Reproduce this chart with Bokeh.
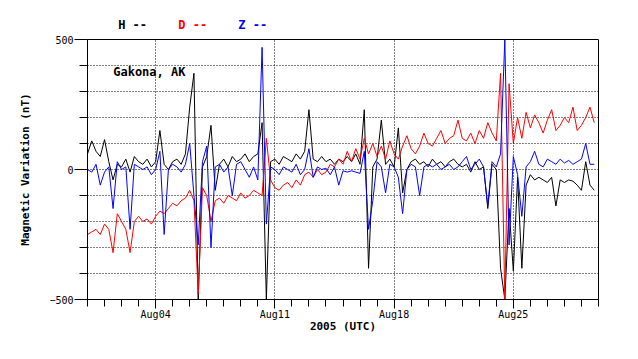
from datetime import datetime, timedelta
import pandas as pd
from bokeh.plotting import figure
from bokeh.layouts import column
from bokeh.models import Range1d, FixedTicker, DatetimeTickFormatter, Label, ColumnDataSource
from bokeh.core.properties import value
from bokeh.embed import file_html
from bokeh.resources import INLINE

# ---- data (6-hourly samples starting 2005-07-31 00:00 UTC) ----
h_vals = [60, 110, 70, 50, 115, 30, -40, 20, 10, 40,
          -10, 50, 30, 20, 40, 10, 30, 150, 20, 0,
          30, 40, 20, 60, 240, 370, -500, 10, 50, 170,
          -80, 20, 40, 10, 50, 30, 40, 60, 30, 50,
          60, 180, -500, 30, 40, 20, 50, 40, 30, 60,
          40, 70, 230, 40, 30, 50, 30,
          40, 20, 40, 30,
          50, 30, 60, 20, 230, -380, 10, 40, 190, 20,
          40, 10, 160, -90, 0, 30, 40, 20, 30, 10,
          40, 20, 30, 10, 30, 40, 20, 10, 20, -10,
          30, 0, 10, -150, 20, 0, -380, -500, -150, -390,
          -30, -380, -60, -20, -40, -30, -40, -50, -30, -140,
          -40, -50, -40, -45, -60, -80, 30, -60, -80]
d_vals = [-250, -240, -230, -250, -210, -230, -320, -170, -200, -230,
          -320, -200, -180, -200, -190, -210, -180, -160, -170, -150,
          -130, -140, -120, -110, -80, -120, -480, -70, -100, -200,
          -120, -110, -130, -100, -110, -120, -90, -110, -100, -80,
          -90, -100, 120, -40, -70, -80, -60, -50, -70, -40,
          -60, -20, -10, -30, 0, -20, -10,
          20, 10, 40, 20,
          70, 30, 80, 40, 120, 60, 100, 50, 90, 40,
          110, 60, 40, 90, 130, 80, 60, 90, 140, 100,
          90, 120, 150, 100, 120, 130, 190, 120, 110, 140,
          100, 150, 120, 180, 140, 110, 370, -500, 330, 100,
          200, 120, 220, 160, 210, 180, 140, 190, 230, 150,
          170, 200, 180, 240, 150, 170, 200, 240, 180]
z_vals = [0, -10, 20, -60, -10, 10, -150, 30, 0, 10,
          -230, 20, 10, 0, 10, -20, 0, 70, -250, 0,
          20, 10, -10, 20, 100, -100, -290, 30, 90, -300,
          10, 20, -10, 10, -100, 20, 30, 0, -30, 10,
          -40, 470, -210, 10, 0, -20, 10, 0, -10, 20,
          -20, 0, 80, -30, 10, 0, 5,
          -20, 10, -60, -5,
          -10, -5, -10, -15, 70, -230, -120, 30, 10, -90,
          20, 10, -30, -170, 0, 20, 10, -100, 10, 20,
          10, 20, 0, 10, 20, 0, 10, 30, 50, 0,
          20, 40, 10, -140, 30, 10, 60, 500, -290, 50,
          -20, -180, 10, 30, 70, 20, 10, 40, 30, 20,
          40, 25, 35, 20, 30, 40, 100, 20, 20]
times = pd.date_range("2005-07-31 00:00", periods=len(h_vals), freq="6h")

series_names = ["H", "D", "Z"]
series_colors = ["black", "red", "blue"]
y_major = [-500, 0, 500]
y_minor = [-400, -300, -200, -100, 100, 200, 300, 400]
x_major_days = [datetime(2005, 8, 4), datetime(2005, 8, 11), datetime(2005, 8, 18), datetime(2005, 8, 25)]
x_start = datetime(2005, 7, 31)
x_end = datetime(2005, 8, 30)
station = "Gakona, AK"
x_title = "2005 (UTC)"
y_title = "Magnetic Variation (nT)"

def ms(dt):
    return (dt - datetime(1970, 1, 1)).total_seconds() * 1000.0

FONT = "DejaVu Sans Mono"
xr = Range1d(x_start, x_end)

# ---- legend strip (above the main plot) ----
top = figure(width=630, height=31, x_range=xr, y_range=Range1d(0, 1),
             x_axis_location=None, y_axis_location=None,
             output_backend="svg", toolbar_location=None)
top.min_border_left = 87
top.min_border_right = 32
top.min_border_top = 0
top.min_border_bottom = 0
top.outline_line_color = None
top.xgrid.visible = False
top.ygrid.visible = False
top.background_fill_color = "white"
top.border_fill_color = "white"
legend_days = [1.80, 5.33, 8.85]
leg_src = ColumnDataSource(dict(
    x=[ms(x_start + timedelta(days=dd)) for dd in legend_days],
    y=[0.21] * 3,
    text=[n + " --" for n in series_names],
    color=series_colors))
top.text("x", "y", text="text", source=leg_src, text_color="color",
         text_font=value(FONT), text_font_size="12px", text_font_style="bold",
         text_baseline="middle", text_align="left")

# ---- main plot ----
p = figure(width=630, height=320, x_axis_type="datetime",
           x_range=xr, y_range=Range1d(-500, 500),
           output_backend="svg", toolbar_location=None)
p.min_border_left = 87
p.min_border_right = 32
p.min_border_top = 8
p.min_border_bottom = 52
p.background_fill_color = "white"
p.border_fill_color = "white"
p.outline_line_color = "black"
p.outline_line_alpha = 1.0
p.outline_line_width = 1

src = ColumnDataSource(dict(t=times, H=h_vals, D=d_vals, Z=z_vals))
for name, col in zip(series_names, series_colors):
    p.line("t", name, source=src, line_color=col, line_width=1)

# x axis
minor_days = [ms(x_start + timedelta(days=k)) for k in range(0, 31)]
xt = FixedTicker(ticks=[ms(d) for d in x_major_days], minor_ticks=minor_days)
p.xaxis.ticker = xt
fmt = "%b%d"
p.xaxis.formatter = DatetimeTickFormatter(days=fmt, months=fmt, hours=fmt, years=fmt,
                                          hourmin=fmt, minutes=fmt, minsec=fmt,
                                          seconds=fmt, milliseconds=fmt, microseconds=fmt)
p.xgrid.ticker = xt
# y axis
yt = FixedTicker(ticks=y_major, minor_ticks=y_minor)
p.yaxis.ticker = yt
p.ygrid.ticker = FixedTicker(ticks=y_minor + [0])

for g in (p.xgrid, p.ygrid):
    g.grid_line_color = "black"
    g.grid_line_dash = "1 2"
    g.grid_line_alpha = 1.0
    g.grid_line_width = 1

for ax in (p.xaxis, p.yaxis):
    ax.axis_line_color = "black"
    ax.major_tick_line_color = "black"
    ax.minor_tick_line_color = "black"
    ax.major_tick_in = 0
    ax.minor_tick_in = 0
    ax.major_label_text_font = FONT
    ax.major_label_text_font_size = "10px"
    ax.major_label_text_color = "black"
    ax.axis_label_text_font = FONT
    ax.axis_label_text_font_size = "11px"
    ax.axis_label_text_font_style = "bold"
    ax.axis_label_text_color = "black"

p.xaxis.major_tick_out = 9
p.xaxis.minor_tick_out = 7
p.xaxis.major_label_standoff = 0
p.xaxis.axis_label = x_title
p.xaxis.axis_label_standoff = -3
p.yaxis.major_tick_out = 13
p.yaxis.minor_tick_out = 8
p.yaxis.major_label_standoff = 1
p.yaxis.axis_label = y_title
p.yaxis.axis_label_standoff = 14

# station label
p.add_layout(Label(x=ms(x_start + timedelta(days=1.51)), y=374, text=station,
                   text_font=FONT, text_font_size="12px", text_font_style="bold",
                   text_color="black", text_baseline="middle"))

layout = column(top, p, spacing=0)
open("out.html", "w").write(file_html(layout, INLINE))
